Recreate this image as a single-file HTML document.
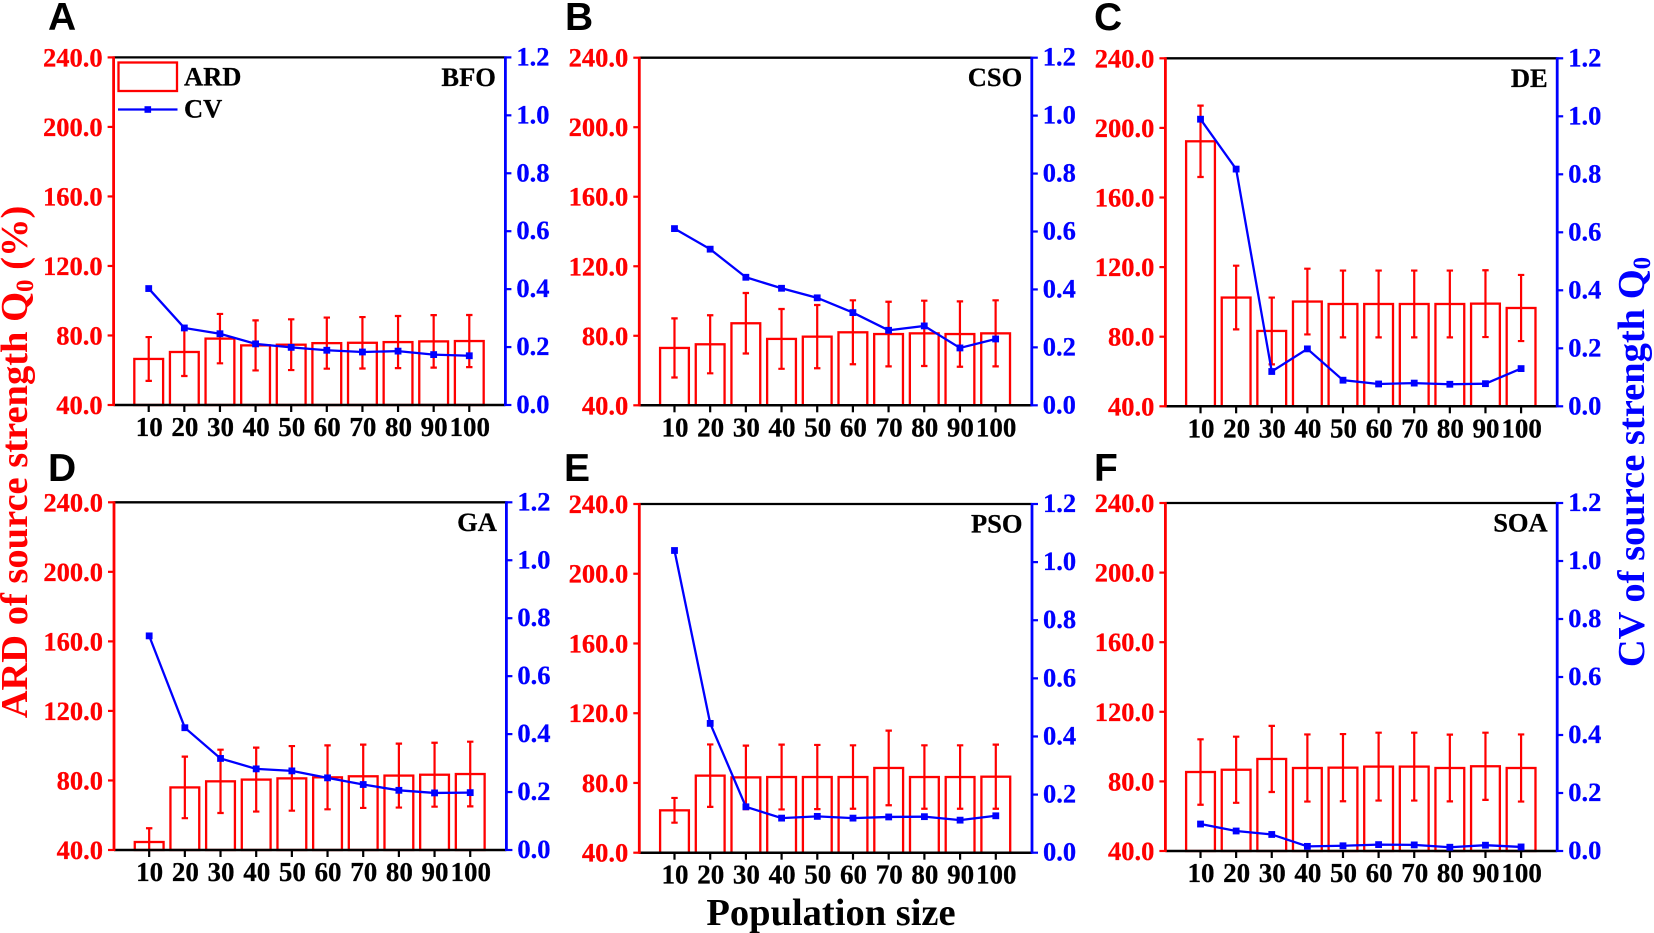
<!DOCTYPE html>
<html lang="en">
<head>
<meta charset="utf-8">
<title>ARD and CV of source strength vs population size</title>
<style>
html,body{margin:0;padding:0;background:#fff;width:1654px;height:933px;overflow:hidden}
svg{display:block}
text{font-family:"Liberation Serif",serif;font-weight:bold}
.letter{font-family:"Liberation Sans",sans-serif;font-size:39px;fill:#000}
.title{font-size:38.5px}
</style>
</head>
<body>
<svg id="chart" xmlns="http://www.w3.org/2000/svg" width="1654" height="933" viewBox="0 0 1654 933">
<rect x="0" y="0" width="1654" height="933" fill="#fff"/>
<text class="letter" x="48" y="30">A</text>
<text class="letter" x="565" y="30">B</text>
<text class="letter" x="1094" y="30">C</text>
<text class="letter" x="48" y="481">D</text>
<text class="letter" x="564" y="481">E</text>
<text class="letter" x="1094" y="481">F</text>
<text class="title" fill="#f00" text-anchor="middle" transform="translate(27,462) rotate(-90)">ARD of source strength Q<tspan font-size="25" dy="6">0</tspan><tspan dy="-6"> (%)</tspan></text>
<text class="title" fill="#00f" text-anchor="middle" transform="translate(1644,462) rotate(-90)">CV of source strength Q<tspan font-size="25" dy="6">0</tspan></text>
<text class="title" fill="#000" text-anchor="middle" x="831" y="925">Population size</text>
<g>
<rect x="118.5" y="62.5" width="58.5" height="28.5" fill="none" stroke="#f00" stroke-width="2.3"/>
<text x="184" y="85.5" font-size="26.5" stroke="#000" stroke-width="0.25">ARD</text>
<line x1="118" y1="109.5" x2="177.5" y2="109.5" stroke="#00f" stroke-width="2.3"/>
<rect x="144.5" y="106.2" width="6.6" height="6.6" fill="#00f"/>
<text x="184" y="117.5" font-size="26.5" stroke="#000" stroke-width="0.25">CV</text>
</g>
</svg>
<script>
const categories = [10, 20, 30, 40, 50, 60, 70, 80, 90, 100];
const ardTicks = [40, 80, 120, 160, 200, 240];
const cvTicks = [0, 0.2, 0.4, 0.6, 0.8, 1.0, 1.2];

const ardBFO = [66.5, 70.5, 78.2, 74.3, 74.7, 75.6, 75.8, 76.2, 76.6, 76.8];
const errBFO = [12.6, 13.8, 14.2, 14.4, 14.6, 14.7, 14.8, 15.0, 15.1, 15.0];
const cvBFO = [0.402, 0.266, 0.246, 0.211, 0.199, 0.189, 0.183, 0.186, 0.174, 0.170];

const ardCSO = [73.0, 75.1, 87.2, 78.2, 79.5, 82.0, 81.0, 81.4, 81.0, 81.4];
const errCSO = [17.0, 16.7, 17.4, 17.2, 18.2, 18.4, 18.6, 18.8, 18.8, 19.0];
const cvCSO = [0.610, 0.539, 0.442, 0.404, 0.371, 0.320, 0.259, 0.274, 0.198, 0.229];

const ardDE = [192.3, 102.5, 83.3, 100.2, 98.8, 98.8, 98.8, 98.8, 99.0, 96.5];
const errDE = [20.5, 18.3, 19.2, 18.9, 19.2, 19.2, 19.2, 19.2, 19.2, 19.0];
const cvDE = [0.990, 0.818, 0.120, 0.198, 0.090, 0.077, 0.080, 0.076, 0.078, 0.130];

const ardGA = [44.6, 76.0, 79.5, 80.5, 81.2, 81.8, 82.4, 82.8, 83.3, 83.7];
const errGA = [7.9, 17.7, 18.2, 18.4, 18.6, 18.4, 18.2, 18.4, 18.4, 18.6];
const cvGA = [0.739, 0.422, 0.316, 0.280, 0.273, 0.249, 0.226, 0.206, 0.197, 0.198];

const ardPSO = [64.3, 84.2, 83.2, 83.4, 83.4, 83.4, 88.6, 83.4, 83.4, 83.6];
const errPSO = [7.1, 17.9, 18.2, 18.6, 18.4, 18.2, 21.4, 18.2, 18.2, 18.4];
const cvPSO = [1.040, 0.445, 0.158, 0.119, 0.125, 0.119, 0.123, 0.124, 0.112, 0.127];

const ardSOA = [85.4, 86.7, 92.9, 87.7, 87.9, 88.5, 88.5, 87.7, 88.7, 87.7];
const errSOA = [18.8, 19.0, 19.0, 19.3, 19.3, 19.5, 19.5, 19.2, 19.3, 19.3];
const cvSOA = [0.093, 0.069, 0.057, 0.016, 0.018, 0.022, 0.021, 0.013, 0.020, 0.014];

const NS = 'http://www.w3.org/2000/svg';
const svg = document.getElementById('chart');

function mk(tag, attrs, parent, txt) {
  const e = document.createElementNS(NS, tag);
  for (const k in attrs) e.setAttribute(k, attrs[k]);
  if (txt !== undefined) e.textContent = txt;
  parent.appendChild(e);
  return e;
}

function drawPanel(name, ard, err, cv, left, right, top, bottom) {
  const xMax = 110;
  const xScale = v => left + (v / xMax) * (right - left) - 0.5;
  const yArd = v => bottom - ((v - 40) / 200) * (bottom - top);
  const yCv = v => bottom - (v / 1.2) * (bottom - top);
  const slug = name.toLowerCase();
  const halfBar = 14.4;
  const cap = 3.2;

  const g = mk('g', {}, svg);
  
  

  categories.forEach((c, i) => {
    const x = xScale(c);
    const bar = mk('rect', { x: x - halfBar, y: yArd(ard[i]), width: halfBar * 2, height: bottom - yArd(ard[i]), fill: 'none', stroke: '#f00', 'stroke-width': 2.3 }, g);
    
    

    const hi = yArd(ard[i] + err[i]);
    const lo = yArd(ard[i] - err[i]);
    const eb = mk('path', { d: 'M' + x + ' ' + hi + 'V' + Math.min(lo, bottom) + 'M' + (x - cap) + ' ' + hi + 'H' + (x + cap) + (lo < bottom ? 'M' + (x - cap) + ' ' + lo + 'H' + (x + cap) : ''), fill: 'none', stroke: '#f00', 'stroke-width': 2.2 }, g);
    
    
  });

  const topAxis = mk('line', { x1: left, y1: top, x2: right, y2: top, stroke: '#000', 'stroke-width': 2.3 }, g);
  
  

  const bottomAxis = mk('line', { x1: left, y1: bottom, x2: right, y2: bottom, stroke: '#000', 'stroke-width': 2.5 }, g);
  
  

  const leftAxis = mk('line', { x1: left, y1: top - 1, x2: left, y2: bottom + 1, stroke: '#f00', 'stroke-width': 2.8 }, g);
  
  

  const rightAxis = mk('line', { x1: right, y1: top - 1, x2: right, y2: bottom + 1, stroke: '#00f', 'stroke-width': 2.8 }, g);
  
  

  categories.forEach(c => {
    const x = xScale(c);
    const t = mk('line', { x1: x, y1: bottom, x2: x, y2: bottom + 7, stroke: '#000', 'stroke-width': 2.2 }, g);
    
    
    const l = mk('text', { x: x + 0.5, y: bottom + 31, 'text-anchor': 'middle', 'font-size': 27, fill: '#000', stroke: '#000', 'stroke-width': 0.25 }, g, String(c));
    
    
  });

  ardTicks.forEach(v => {
    const y = yArd(v);
    const t = mk('line', { x1: left - 6, y1: y, x2: left, y2: y, stroke: '#f00', 'stroke-width': 2.2 }, g);
    
    
    const l = mk('text', { x: left - 11, y: y + 9, 'text-anchor': 'end', 'font-size': 26.5, fill: '#f00', stroke: '#f00', 'stroke-width': 0.25 }, g, v.toFixed(1));
    
    
  });

  cvTicks.forEach(v => {
    const y = yCv(v);
    const t = mk('line', { x1: right, y1: y, x2: right + 6, y2: y, stroke: '#00f', 'stroke-width': 2.2 }, g);
    
    
    const l = mk('text', { x: right + 11, y: y + 8, 'font-size': 26.5, fill: '#00f', stroke: '#00f', 'stroke-width': 0.25 }, g, v.toFixed(1));
    
    
  });

  const pts = categories.map((c, i) => xScale(c) + ',' + yCv(cv[i])).join(' ');
  const line = mk('polyline', { points: pts, fill: 'none', stroke: '#00f', 'stroke-width': 2.3 }, g);
  
  

  categories.forEach((c, i) => {
    const m = mk('rect', { x: xScale(c) - 3.4, y: yCv(cv[i]) - 3.4, width: 6.8, height: 6.8, fill: '#00f' }, g);
    
    
  });

  const lab = mk('text', { x: right - 9.5, y: top + 28.5, 'text-anchor': 'end', 'font-size': 26.5, fill: '#000', stroke: '#000', 'stroke-width': 0.25 }, g, name);
  
  
}

drawPanel('BFO', ardBFO, errBFO, cvBFO, 113.6, 505.4, 57.4, 405);
drawPanel('CSO', ardCSO, errCSO, cvCSO, 639.3, 1031.8, 57.7, 405.3);
drawPanel('DE', ardDE, errDE, cvDE, 1165.4, 1557.2, 58.3, 406.3);
drawPanel('GA', ardGA, errGA, cvGA, 114, 506.4, 502.3, 850);
drawPanel('PSO', ardPSO, errPSO, cvPSO, 639.3, 1032, 504, 852.7);
drawPanel('SOA', ardSOA, errSOA, cvSOA, 1165.4, 1557.2, 503, 851);
</script>
</body>
</html>
